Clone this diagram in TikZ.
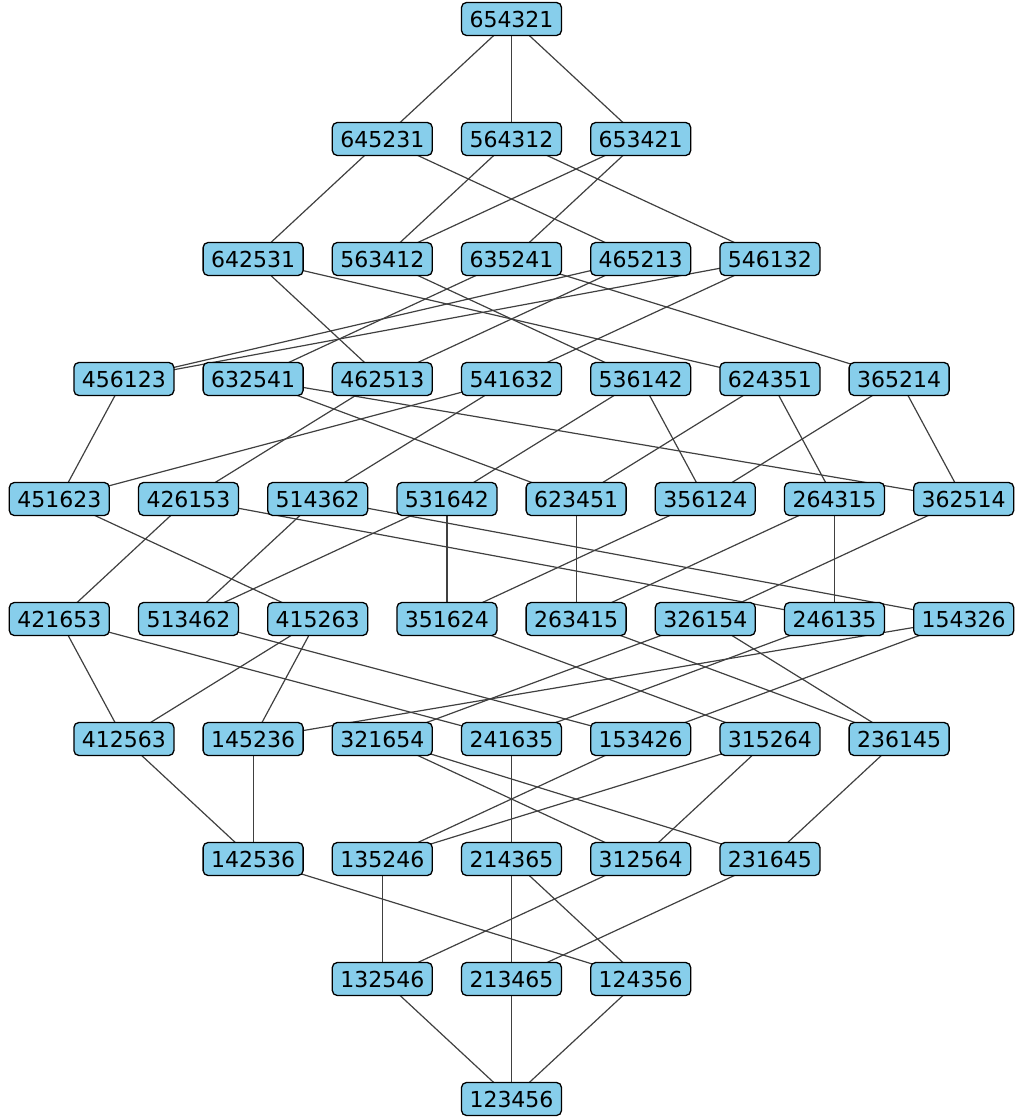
\documentclass[tikz,border=0pt]{standalone}
\usepackage{fontspec}
\setmainfont{DejaVu Sans}
\usetikzlibrary{backgrounds}
\definecolor{boxfill}{HTML}{87CEEB}
\definecolor{edgecol}{HTML}{404040}
\tikzset{
  pbox/.style={draw=black, fill=boxfill, rounded corners=5pt, line width=1.3pt,
    minimum width=100pt, minimum height=33pt, inner sep=0pt,
    font=\fontsize{22}{26}\selectfont},
  edge/.style={draw=edgecol, line width=1.2pt}
}
\begin{document}
\begin{tikzpicture}[x=1pt,y=-1pt]
\useasboundingbox (0,0) rectangle (1016,1118);
\foreach \n/\j/\r in {
  654321/7/0,
  645231/5/1, 564312/7/1, 653421/9/1,
  642531/3/2, 563412/5/2, 635241/7/2, 465213/9/2, 546132/11/2,
  456123/1/3, 632541/3/3, 462513/5/3, 541632/7/3, 536142/9/3, 624351/11/3, 365214/13/3,
  451623/0/4, 426153/2/4, 514362/4/4, 531642/6/4, 623451/8/4, 356124/10/4, 264315/12/4, 362514/14/4,
  421653/0/5, 513462/2/5, 415263/4/5, 351624/6/5, 263415/8/5, 326154/10/5, 246135/12/5, 154326/14/5,
  412563/1/6, 145236/3/6, 321654/5/6, 241635/7/6, 153426/9/6, 315264/11/6, 236145/13/6,
  142536/3/7, 135246/5/7, 214365/7/7, 312564/9/7, 231645/11/7,
  132546/5/8, 213465/7/8, 124356/9/8,
  123456/7/9}
  \node[pbox] (p\n) at ({511.5+(\j-7)*64.6},{19+120*\r}) {\n};
\begin{pgfonlayer}{background}
\foreach \a/\b in {
  654321/645231, 654321/564312, 654321/653421,
  645231/642531, 645231/465213, 564312/563412, 564312/546132, 653421/563412, 653421/635241,
  642531/462513, 642531/624351, 563412/536142, 635241/632541, 635241/365214, 465213/456123, 465213/462513, 546132/456123, 546132/541632,
  456123/451623, 632541/623451, 632541/362514, 462513/426153, 541632/451623, 541632/514362, 536142/531642, 536142/356124, 624351/623451, 624351/264315, 365214/356124, 365214/362514,
  451623/415263, 426153/421653, 426153/246135, 514362/513462, 514362/154326, 531642/513462, 531642/351624, 623451/263415, 356124/351624, 264315/263415, 264315/246135, 362514/326154,
  421653/412563, 421653/241635, 513462/153426, 415263/412563, 415263/145236, 351624/315264, 263415/236145, 326154/321654, 326154/236145, 246135/241635, 154326/145236, 154326/153426,
  412563/142536, 145236/142536, 321654/312564, 321654/231645, 241635/214365, 153426/135246, 315264/135246, 315264/312564, 236145/231645,
  142536/124356, 135246/132546, 214365/213465, 214365/124356, 312564/132546, 231645/213465,
  132546/123456, 213465/123456, 124356/123456}
  \draw[edge] (p\a.center) -- (p\b.center);
\end{pgfonlayer}
\end{tikzpicture}
\end{document}
